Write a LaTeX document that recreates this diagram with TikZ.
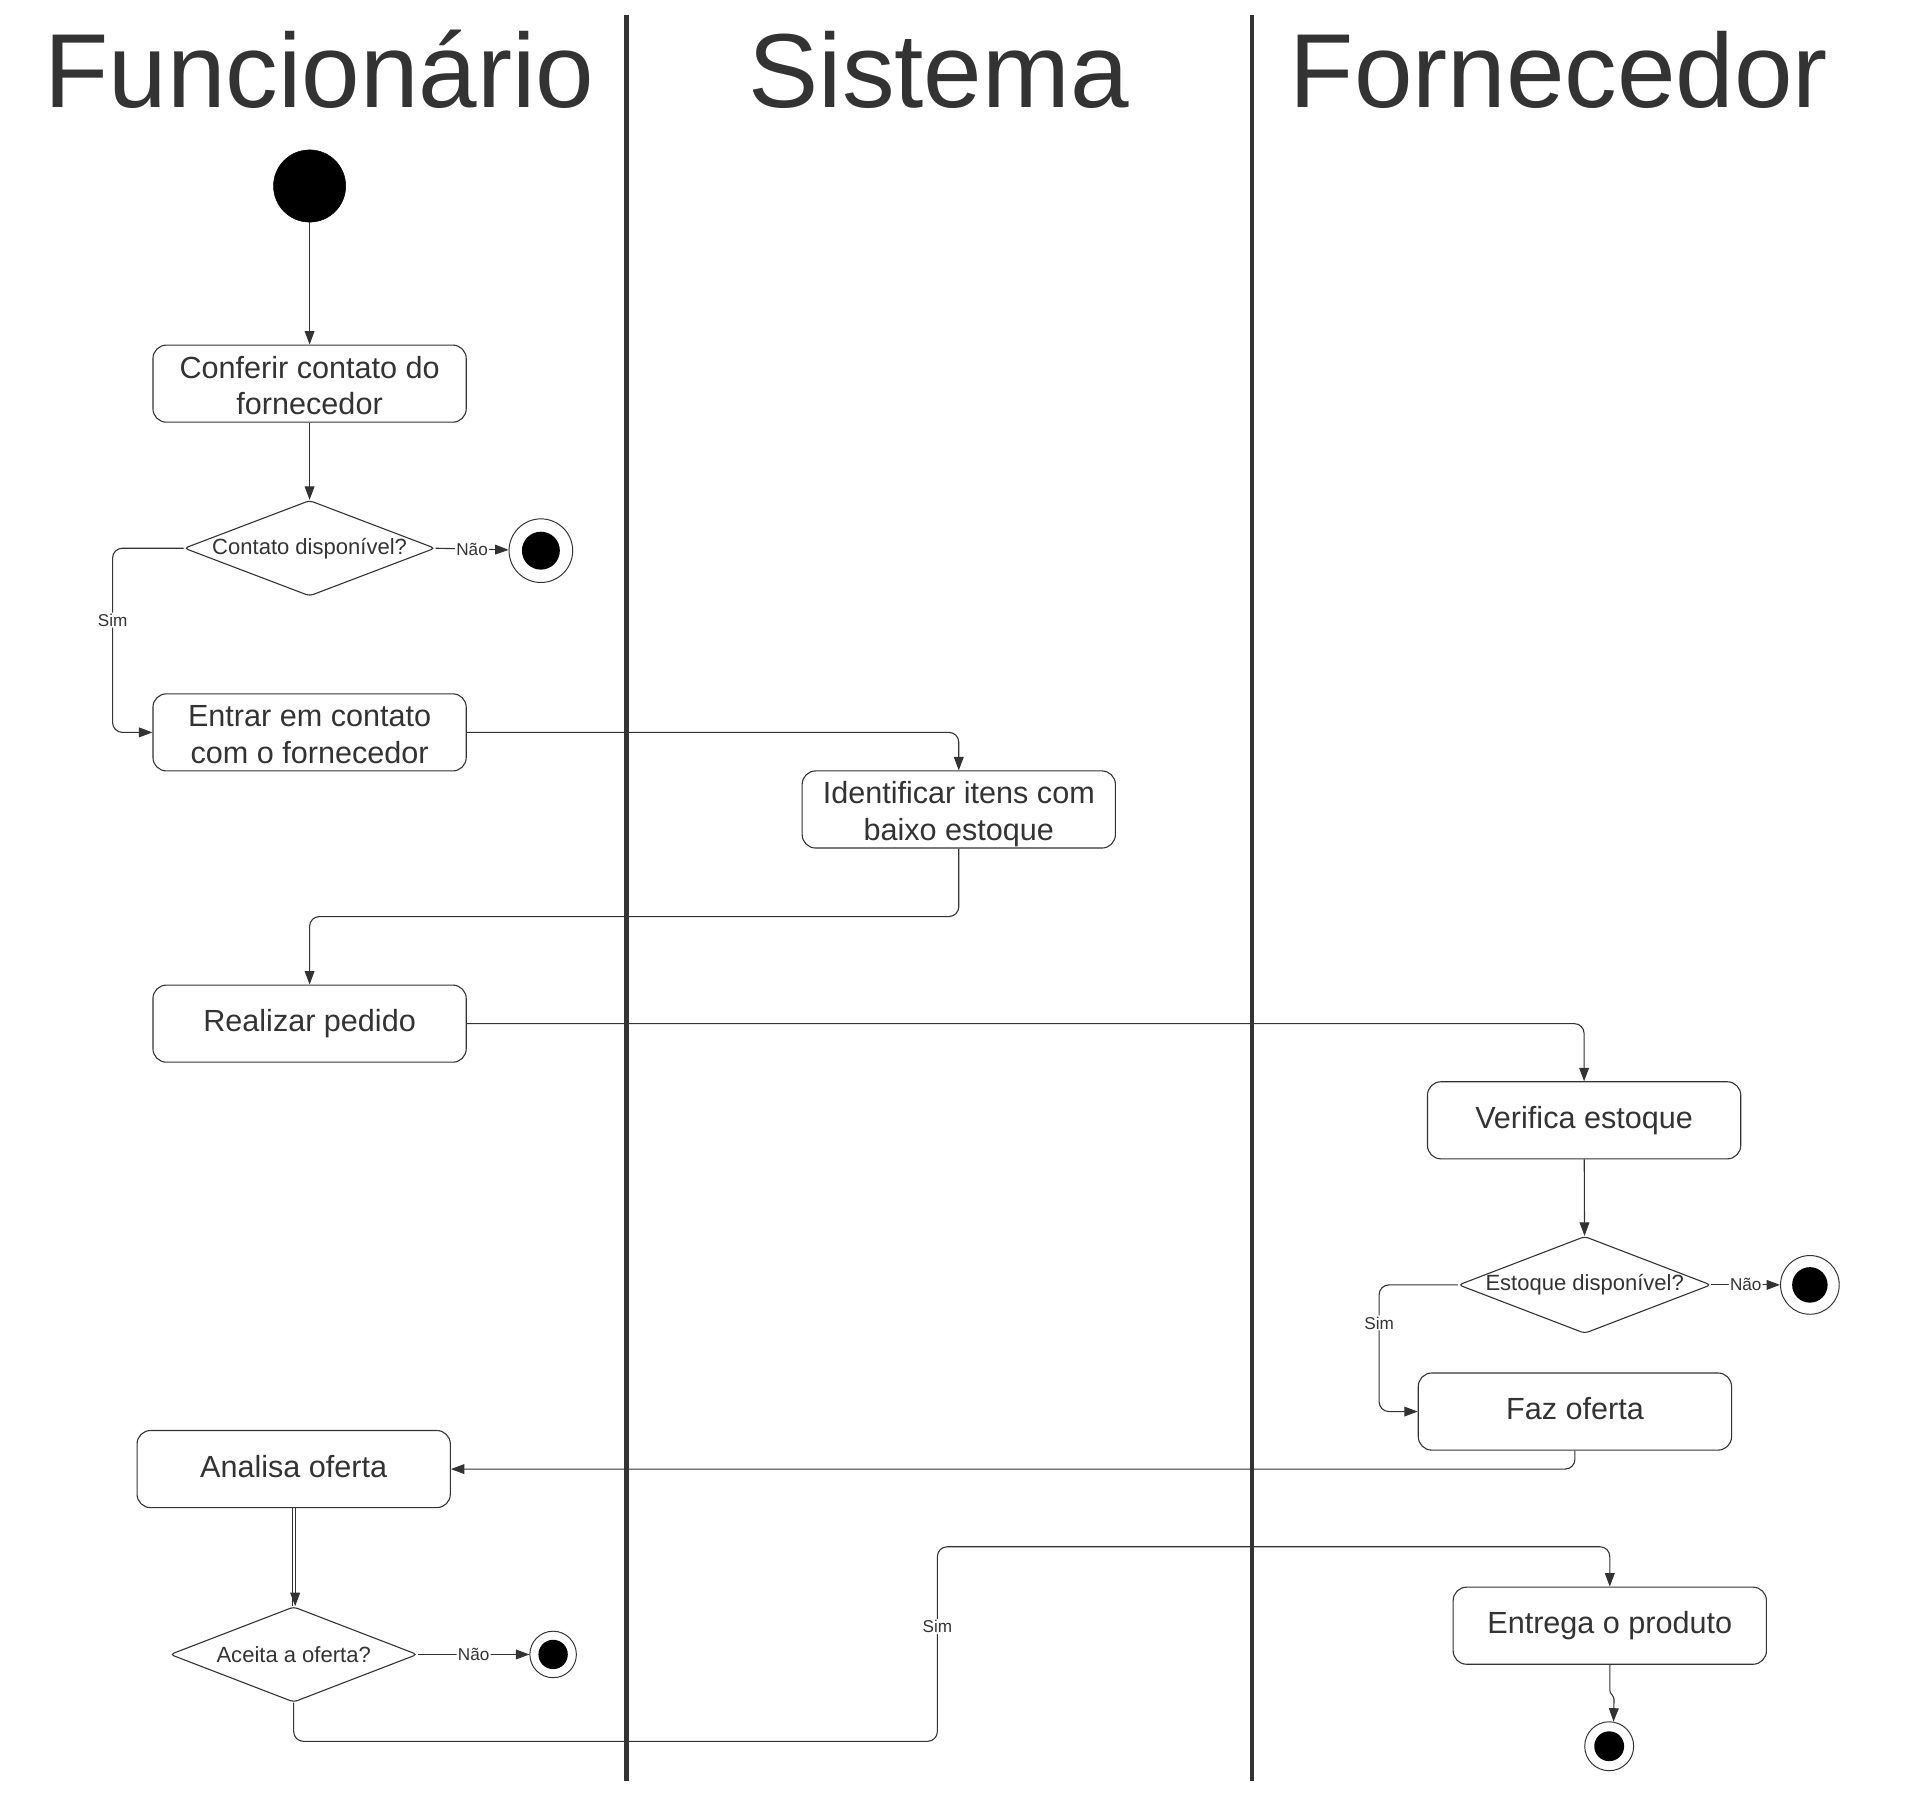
\documentclass[tikz,border=0pt]{standalone}
\usepackage{fontspec}
\setmainfont{Liberation Sans}
\usetikzlibrary{arrows.meta,shapes.geometric}
\definecolor{ink}{HTML}{333333}
\begin{document}
\begin{tikzpicture}[x=1pt,y=-1pt,
  every node/.style={text=ink},
  title/.style={anchor=base, font=\fontsize{86}{100}\selectfont},
  lane/.style={draw=ink, line width=3.8pt},
  act/.style={draw=ink, line width=0.9pt, rounded corners=11pt, minimum width=256pt, minimum height=63pt, inner sep=0pt, align=center, font=\fontsize{25}{30}\selectfont, text height=18.5pt, text depth=5.5pt},
  acttwo/.style={act, text height=56pt, text depth=5pt},
  dec/.style={draw=ink, line width=0.9pt, diamond, shape aspect=2.6, rounded corners=3pt, inner sep=0pt, minimum width=#1, minimum height=78pt, font=\fontsize{18}{20}\selectfont},
  startnode/.style={circle, fill=black, draw=black, minimum size=59pt, inner sep=0pt},
  endnode/.style={circle, draw=ink, line width=0.8pt, fill=white, minimum size=#1, inner sep=0pt},
  conn/.style={draw=ink, line width=0.9pt, rounded corners=8pt, -{Triangle[length=11pt,width=8pt]}},
  plain/.style={draw=ink, line width=0.9pt},
  lbl/.style={fill=white, inner sep=1pt, font=\fontsize{14}{16}\selectfont}
]
\useasboundingbox (0,0) rectangle (1569,1468.5);

% lane titles and separators
\node[title] (tf) at (261,88) {Funcionário};
\node[title] (ts) at (767,88) {Sistema};
\node[title] (tn) at (1274,88) {Fornecedor};
\draw[lane] (512,12) -- (512,1455);
\draw[lane] (1023,12) -- (1023,1455);

% nodes
\node[startnode] (start) at (253,152) {};
\node[acttwo] (b1) at (253,313.5) {Conferir contato do\\fornecedor};
\node[dec=205pt] (d1) at (253,448) {Contato disponível?};
\node[endnode=52pt] (e1) at (442,450) {};
\fill[black] (e1.center) circle (15.5);
\node[acttwo] (b2) at (253,598.5) {Entrar em contato\\com o fornecedor};
\node[acttwo] (b3) at (783.5,661.5) {Identificar itens com\\baixo estoque};
\node[act] (b4) at (253,836.5) {Realizar pedido};
\node[act] (b5) at (1294.5,915.5) {Verifica estoque};
\node[dec=204pt] (d2) at (1295,1050) {Estoque disponível?};
\node[endnode=48pt] (e2) at (1479,1050) {};
\fill[black] (e2.center) circle (14.5);
\node[act] (b6) at (1287,1153.5) {Faz oferta};
\node[act] (b7) at (240,1200.5) {Analisa oferta};
\node[dec=202pt] (d3) at (240,1352) {Aceita a oferta?};
\node[endnode=38pt] (e3) at (452,1352) {};
\fill[black] (e3.center) circle (12);
\node[act] (b8) at (1315.5,1328.5) {Entrega o produto};
\node[endnode=40pt] (e4) at (1315,1427) {};
\fill[black] (e4.center) circle (12.2);

% connectors
\draw[conn] (start) -- (b1);
\draw[conn] (b1) -- (d1);
\draw[conn] (d1.east) -- node[lbl] {Não} (e1);
\draw[conn] (d1.west) -- (92,448) -- node[lbl, pos=0.39] {Sim} (92,598.5) -- (b2.west);
\draw[conn] (b2.east) -| (b3.north);
\draw[conn] (b3.south) -- (783.5,749) -- (253,749) -- (b4.north);
\draw[conn] (b4.east) -| (b5.north);
\draw[conn] (b5) -- (d2);
\draw[conn] (d2.east) -- node[lbl] {Não} (e2);
\draw[conn] (d2.west) -- (1127,1050) -- node[lbl, pos=0.3] {Sim} (1127,1153.5) -- (b6.west);
\draw[conn] (b6.south) |- (b7.east);
\draw[plain] ([xshift=-1.2pt]b7.south) -- ([xshift=-1.2pt]d3.north);
\draw[conn] ([xshift=1.2pt]b7.south) -- ([xshift=1.2pt]d3.north);
\draw[conn] (d3.east) -- node[lbl] {Não} (e3);
\draw[conn] (d3.south) -- (240,1423) -- (766,1423) -- node[lbl, pos=0.59] {Sim} (766,1264) -- (1315.5,1264) -- (b8.north);
\draw[conn, rounded corners=2pt] (b8.south) -- (1315.5,1383) -- (1319,1387) -- (e4.80);
\end{tikzpicture}
\end{document}
